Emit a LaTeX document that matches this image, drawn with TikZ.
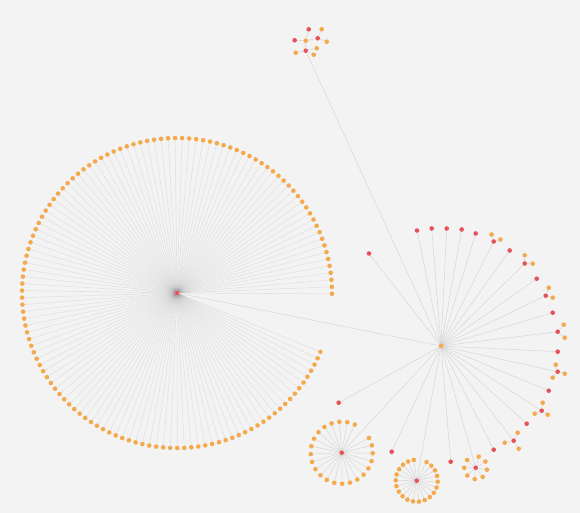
\documentclass[tikz,border=0pt]{standalone}
\usepackage{tikz}
\usetikzlibrary{calc}
\definecolor{netBack}{HTML}{F3F3F3}
\definecolor{netLink}{HTML}{000000}
\definecolor{netOrange}{HTML}{F4A94C}
\definecolor{netRed}{HTML}{E5525A}
\pgfdeclarelayer{bg}
\pgfdeclarelayer{links}
\pgfsetlayers{bg,links,main}
\tikzset{
  net/base/.style={circle, draw=none, inner sep=0pt, minimum size=4.6pt},
  net/leaf/.style={net/base, fill=netOrange},
  net/key/.style={net/base, fill=netRed},
  net/link/.style={draw=netLink, draw opacity=0.1, line width=0.6pt},
  net/fan/.style={net/link, draw opacity=0.07},
}

\begin{document}
\begin{tikzpicture}[x=1pt, y=-1pt]
\begin{pgfonlayer}{bg}
\fill[netBack] (0,0) rectangle (580,513);
\end{pgfonlayer}
\useasboundingbox (0,0) rectangle (580,513);

% the two hubs
\node[net/key] (big) at (177,293) {};
\node[net/leaf] (hub) at (441,346) {};
\begin{pgfonlayer}{links}
\draw[net/link] (big) -- (hub);
\end{pgfonlayer}

% large fan around the red hub
\foreach \k in {0,...,130} {
  \node[net/leaf] (b\k) at ($(big)+({0.3-2.6*\k}:155)$) {};
  \begin{pgfonlayer}{links}\draw[net/fan] (big) -- (b\k);\end{pgfonlayer}
}

% red nodes tied to the orange hub
\foreach \nm/\x/\y in {r1/369/253.5, r2/417/230.5, r3/431.7/228.5, r4/446.7/228.5,
    r5/461.7/229.5, r6/475.7/233.5, r7/493.7/241.5, r8/509.7/250.5,
    r9/524.7/263.5, r10/536.7/278.7, r11/545.7/295.7, r12/552.7/312.7,
    r13/557.7/331.7, r14/557.7/351.7, r15/557.7/371.7, r16/548.7/390.7,
    r17/541.7/410.7, r18/526.7/423.7, r19/513.7/440.7, r20/493.7/449.7,
    r21/450.7/461.7, r22/391.7/451.7, r23/338.7/402.7,
    cA/341.7/452.7, cB/416.7/480.7, cC/475.7/467.7} {
  \node[net/key] (\nm) at (\x,\y) {};
  \begin{pgfonlayer}{links}\draw[net/link] (hub) -- (\nm);\end{pgfonlayer}
}

% orange leaves hanging on the red ring
\foreach \up/\nm/\x/\y in {r7/r7a/491.5/234.5, r7/r7b/500.5/239.5,
    r9/r9a/524.7/255.3, r9/r9b/532.7/263.7,
    r11/r11a/548.7/287.7, r11/r11b/552.7/297.7,
    r13/r13a/563.7/324.7, r13/r13b/564.7/337.7,
    r15/r15a/555.7/364.7, r15/r15b/564.7/373.7, r15/r15c/552.7/377.7,
    r17/r17a/542.7/402.7, r17/r17b/534.7/413.7, r17/r17c/547.7/414.7,
    r19/r19a/517.7/432.7, r19/r19b/504.7/442.7, r19/r19c/518.7/448.7} {
  \node[net/leaf] (\nm) at (\x,\y) {};
  \begin{pgfonlayer}{links}\draw[net/link] (\up) -- (\nm);\end{pgfonlayer}
}

% three small stars below
\foreach \k in {0,...,22} {
  \node[net/leaf] (a\k) at ($(cA)+({-65-14.7*\k}:31)$) {};
  \begin{pgfonlayer}{links}\draw[net/link] (cA) -- (a\k);\end{pgfonlayer}
}
\foreach \k in {0,...,20} {
  \node[net/leaf] (s\k) at ($(cB)+({-98-16.2*\k}:21)$) {};
  \begin{pgfonlayer}{links}\draw[net/link] (cB) -- (s\k);\end{pgfonlayer}
}
\foreach \k in {0,...,7} {
  \node[net/leaf] (c\k) at ($(cC)+({-138-42.4*\k}:11.5)$) {};
  \begin{pgfonlayer}{links}\draw[net/link] (cC) -- (c\k);\end{pgfonlayer}
}

% small tree at the top
\node[net/key] (t1) at (308.7,29.3) {};
\node[net/leaf] (t2) at (321.7,29.3) {};
\node[net/key] (t3) at (294.7,40.3) {};
\node[net/key] (t4) at (305.7,50.7) {};
\node[net/leaf] (t5) at (305.7,40.7) {};
\node[net/key] (t6) at (317.7,38.3) {};
\node[net/leaf] (t7) at (326.7,41.7) {};
\node[net/leaf] (t8) at (316.7,48.3) {};
\node[net/leaf] (t9) at (295.7,52.7) {};
\node[net/leaf] (t10) at (313.7,54.7) {};
\begin{pgfonlayer}{links}
\foreach \a/\b in {t1/t5, t3/t5, t5/t6, t6/t2, t6/t7, t5/t4, t4/t8, t4/t9, t4/t10, t4/hub}
  \draw[net/link] (\a) -- (\b);
\end{pgfonlayer}
\end{tikzpicture}
\end{document}
